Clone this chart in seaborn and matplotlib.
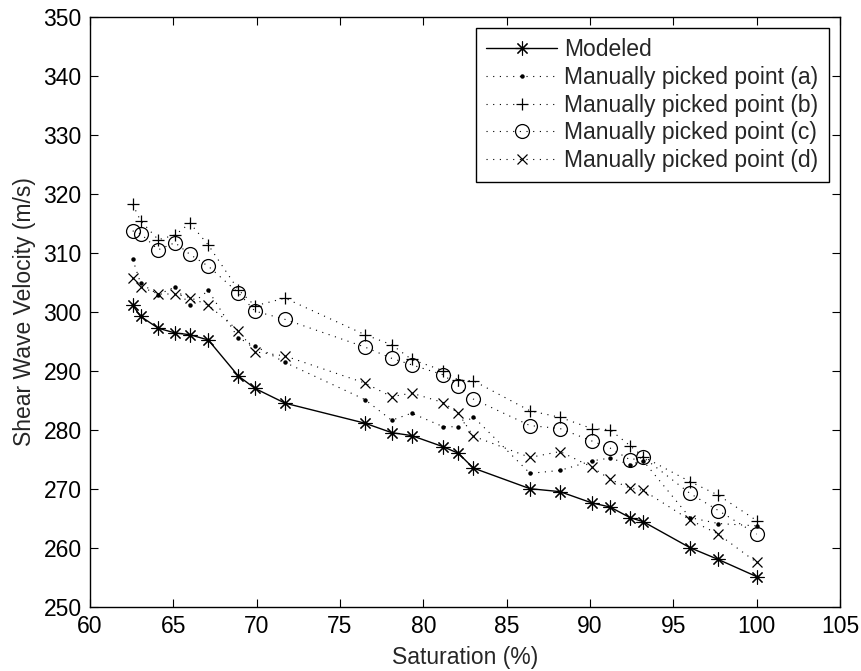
import matplotlib
matplotlib.use("Agg")
import matplotlib.pyplot as plt
import seaborn as sns
import pandas as pd

saturation = [62.56, 63.04, 64.1, 65.1, 66.0, 67.1, 68.9, 69.9, 71.7, 76.5, 78.1, 79.3,
              81.2, 82.1, 83.0, 86.4, 88.2, 90.1, 91.2, 92.4, 93.2, 96.0, 97.7, 100.0]
modeled = [301.1, 299.2, 297.2, 296.4, 296.1, 295.2, 289.1, 287.0, 284.5, 281.1, 279.5, 279.0,
           277.1, 276.0, 273.5, 270.0, 269.5, 267.6, 266.9, 265.1, 264.4, 260.0, 258.0, 255.1]
point_a = [308.9, 304.8, 302.9, 304.2, 301.1, 303.6, 295.5, 294.2, 291.4, 285.1, 281.6, 282.8,
           280.5, 280.5, 282.2, 272.6, 273.1, 274.7, 275.2, 274.1, 274.7, 265.1, 264.1, 263.7]
point_b = [318.2, 315.4, 312.2, 313.0, 315.0, 311.3, 303.7, 301.0, 302.3, 296.1, 294.4, 291.9,
           290.0, 288.4, 288.3, 283.2, 282.1, 280.2, 280.0, 277.3, 275.4, 271.2, 268.9, 264.6]
point_c = [313.7, 313.2, 310.5, 311.7, 309.7, 307.7, 303.2, 300.1, 298.7, 294.0, 292.1, 291.0,
           289.3, 287.4, 285.2, 280.7, 280.2, 278.1, 276.9, 274.9, 275.3, 269.2, 266.3, 262.3]
point_d = [305.7, 304.2, 303.0, 303.0, 302.4, 301.1, 296.8, 293.2, 292.5, 287.9, 285.6, 286.2,
           284.6, 282.8, 278.9, 275.3, 276.3, 273.7, 271.6, 270.1, 269.7, 264.7, 262.3, 257.5]
labels = ["Modeled", "Manually picked point (a)", "Manually picked point (b)",
          "Manually picked point (c)", "Manually picked point (d)"]
x_ticks = [60, 65, 70, 75, 80, 85, 90, 95, 100, 105]
y_ticks = [250, 260, 270, 280, 290, 300, 310, 320, 330, 340, 350]

sns.set_theme(style="ticks")
plt.rcParams["font.family"] = ["Liberation Sans", "DejaVu Sans"]

fig = plt.figure(figsize=(8.62, 6.71), dpi=100)
ax = fig.add_axes([90 / 862, 1 - 606.7 / 671, 750 / 862, 590 / 671])

dot = (0, (1, 5))
styles = [
    dict(marker=(8, 2, 0), linestyle="-", linewidth=1.0, markersize=10, markeredgewidth=0.8),
    dict(marker="o", linestyle=dot, linewidth=0.8, markersize=3.2, markeredgewidth=0),
    dict(marker="+", linestyle=dot, linewidth=0.8, markersize=9, markeredgewidth=0.9),
    dict(marker="o", linestyle=dot, linewidth=0.8, markersize=10, markeredgewidth=0.9,
         markerfacecolor="none"),
    dict(marker="x", linestyle=dot, linewidth=0.8, markersize=7, markeredgewidth=0.9),
]
series = [modeled, point_a, point_b, point_c, point_d]

for name, vals, st in zip(labels, series, styles):
    df = pd.DataFrame({"Saturation": saturation, "Velocity": vals})
    sns.lineplot(data=df, x="Saturation", y="Velocity", ax=ax, label=name, color="black",
                 sort=False, estimator=None, markeredgecolor="black", **st)

ax.set_xlim(60, 105)
ax.set_ylim(250, 350)
ax.set_xticks(x_ticks)
ax.set_yticks(y_ticks)
ax.tick_params(direction="in", length=6, width=0.8, top=True, right=True,
               labelsize=16.5, colors="black", pad=6)
for s in ax.spines.values():
    s.set_linewidth(1.0)
    s.set_color("black")
ax.set_xlabel("Saturation (%)", fontsize=16.5, labelpad=6)
ax.set_ylabel("Shear Wave Velocity (m/s)", fontsize=16.5, labelpad=5)

leg = ax.legend(loc="upper right", fontsize=16.5, frameon=True, fancybox=False,
                edgecolor="black", framealpha=1, handlelength=3.1, handletextpad=0.3,
                borderaxespad=0.5, labelspacing=0.2, borderpad=0.45)
leg.get_frame().set_linewidth(1.0)

fig.savefig("out.png", dpi=100)
